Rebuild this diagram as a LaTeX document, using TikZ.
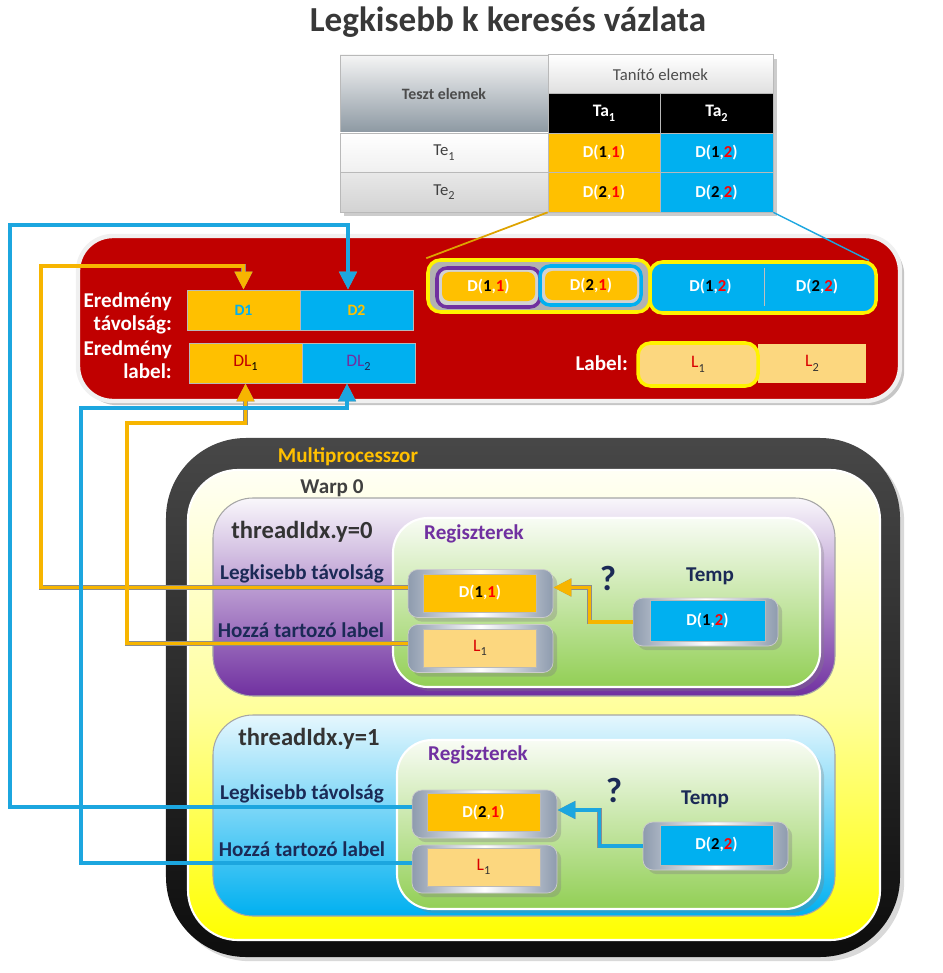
\documentclass[tikz,border=0pt]{standalone}
\usepackage{fontspec}
\setmainfont{Carlito}
\usetikzlibrary{arrows.meta,positioning,shadows}

\definecolor{cellorange}{HTML}{FFC000}
\definecolor{cellblue}{HTML}{00B0F0}
\definecolor{celllight}{HTML}{FCD77F}
\definecolor{boxred}{HTML}{C00000}
\definecolor{navytext}{HTML}{1B2A56}
\definecolor{regpurple}{HTML}{7030A0}
\definecolor{reggreen}{HTML}{92CF55}
\definecolor{linkorange}{HTML}{F7B500}
\definecolor{linkblue}{HTML}{1CA6DF}
\definecolor{silver}{HTML}{8E9BAE}
\definecolor{steelgray}{HTML}{8C98A2}

\newcommand{\lowsub}[1]{\raisebox{-0.55ex}{\scriptsize #1}}
\newcommand{\dpair}[2]{\textcolor{white}{D(}\textcolor{black}{#1}\textcolor{white}{,}\textcolor{red}{#2}\textcolor{white}{)}}
\newcommand{\lsub}[1]{\textcolor{red!85!black}{L}\lowsub{\textcolor{black!80}{#1}}}

\tikzset{
	tcell/.style={draw=gray!55, inner sep=0pt, minimum height=7.9mm, font=\bfseries\fontsize{9.5}{11}\selectfont},
	ocell/.style={tcell, fill=cellorange},
	bcell/.style={tcell, fill=cellblue},
	lcell/.style={tcell, fill=celllight, font=\fontsize{10}{11}\selectfont},
	ygroup/.style={draw=yellow, line width=2pt, rounded corners=2.5mm, inner sep=0pt},
	whitelbl/.style={text=white, font=\bfseries\fontsize{12}{13}\selectfont},
	navylbl/.style={text=navytext, font=\bfseries\fontsize{12}{14}\selectfont},
	thrlbl/.style={text=black!80, font=\bfseries\fontsize{14}{16}\selectfont},
	reglbl/.style={text=regpurple, font=\bfseries\fontsize{12}{14}\selectfont},
	qmark/.style={text=navytext, font=\bfseries\fontsize{20}{22}\selectfont},
	threadbox/.style={draw=gray!70, line width=0.6pt, rounded corners=8mm, minimum width=124.4mm},
	regbox/.style={draw=white, line width=1.2pt, rounded corners=7mm, top color=reggreen!6, bottom color=reggreen,
		drop shadow={opacity=0.3}},
	slotbox/.style={draw=gray!40, rounded corners=2mm, minimum width=29mm, minimum height=9.6mm,
		left color=silver, right color=silver, middle color=white, drop shadow={opacity=0.35}},
	olink/.style={draw=linkorange, line width=2pt, -{Triangle[length=3.6mm, width=3.4mm]},
		preaction={draw=black!45, line width=2.8pt}},
	blink/.style={draw=linkblue, line width=2pt, -{Triangle[length=3.6mm, width=3.4mm]},
		preaction={draw=black!45, line width=2.8pt}}
}

\begin{document}
\begin{tikzpicture}[x=0.2mm, y=-0.2mm]
	\useasboundingbox (0, 0) rectangle (942, 973);

	%%draw the title
	\node[text=black!78, font=\bfseries\fontsize{20}{24}\selectfont] (title) at (508, 22){Legkisebb k keresés vázlata};

	%%draw the table
	\node[fill=white, drop shadow={opacity=0.4}, minimum width=86.6mm, minimum height=31.4mm] (tbl) at (556.5, 133.5){};
	\node[tcell, minimum width=41.6mm, minimum height=15.6mm, top color=gray!8, bottom color=steelgray,
		text=black!70, font=\bfseries\fontsize{9}{11}\selectfont] (teszt) at (444, 94){Teszt elemek};
	\node[tcell, minimum width=45mm, top color=white, bottom color=gray!25, text=black!70,
		font=\fontsize{9.5}{11}\selectfont] (tanito) at (660.5, 74.5){Tanító elemek};
	\node[tcell, fill=black, minimum width=22.4mm, font=\bfseries\fontsize{10}{11}\selectfont] (ta1) at (604, 113.5){\textcolor{white}{Ta\lowsub{1}}};
	\node[tcell, fill=black, minimum width=22.6mm, font=\bfseries\fontsize{10}{11}\selectfont] (ta2) at (716.5, 113.5){\textcolor{white}{Ta\lowsub{2}}};
	\node[tcell, minimum width=41.6mm, top color=white, bottom color=gray!12, text=black!75,
		font=\fontsize{9.5}{11}\selectfont] (te1) at (444, 152.75){Te\lowsub{1}};
	\node[tcell, minimum width=41.6mm, top color=gray!18, bottom color=gray!35, text=black!75,
		font=\fontsize{9.5}{11}\selectfont] (te2) at (444, 192.25){Te\lowsub{2}};
	\node[ocell, minimum width=22.4mm] (d11) at (604, 152.75){\dpair{1}{1}};
	\node[bcell, minimum width=22.6mm] (d12) at (716.5, 152.75){\dpair{1}{2}};
	\node[ocell, minimum width=22.4mm] (d21) at (604, 192.25){\dpair{2}{1}};
	\node[bcell, minimum width=22.6mm] (d22) at (716.5, 192.25){\dpair{2}{2}};

	%%draw the result panel
	\node[fill=boxred, draw=white!88!gray, line width=2.5pt, rounded corners=7mm, minimum width=164.4mm, minimum height=33mm,
		drop shadow={opacity=0.45}] (result) at (489, 318.5){};
	\node[whitelbl, anchor=east, align=right] (distlbl) at (178, 313.5){Eredmény\\távolság:};
	\node[whitelbl, anchor=east, align=right] (lbllbl) at (178, 360){Eredmény\\label:};
	\node[ocell, minimum width=22.6mm, minimum height=8mm, text=cellblue, font=\bfseries\fontsize{9}{11}\selectfont] (d1) at (243.5, 310){D1};
	\node[bcell, minimum width=22.6mm, minimum height=8mm, text=cellorange, font=\bfseries\fontsize{9}{11}\selectfont] (d2) at (356.5, 310){D2};
	\node[ocell, minimum width=22.6mm, minimum height=8mm, font=\fontsize{10}{11}\selectfont] (dl1) at (245.5, 363){\textcolor{boxred}{DL}\lowsub{\textcolor{black}{1}}};
	\node[bcell, minimum width=22.6mm, minimum height=8mm, font=\fontsize{10}{11}\selectfont] (dl2) at (358.5, 363){\textcolor{regpurple}{DL}\lowsub{\textcolor{navytext}{2}}};

	%%the copied column elements
	\node[ygroup, fill=gray!60, minimum width=44.4mm, minimum height=10.4mm] (grp1) at (539, 286){};
	\node[draw=regpurple, line width=2pt, rounded corners=2mm, fill=gray!35, minimum width=20.6mm, minimum height=7.8mm] (pbox) at (488.5, 287.5){};
	\node[ocell, draw=none, rounded corners=1.5mm, minimum width=18.6mm, minimum height=5.8mm] (d11r) at (488.5, 286.5){\dpair{1}{1}};
	\node[draw=cellblue, line width=2pt, rounded corners=2mm, fill=gray!35, minimum width=20.2mm, minimum height=7.8mm] (cbox) at (590.5, 285.5){};
	\node[ocell, draw=none, rounded corners=1.5mm, minimum width=18.4mm, minimum height=5.8mm] (d21r) at (591, 285.5){\dpair{2}{1}};
	\node[ygroup, fill=cellblue, minimum width=45.2mm, minimum height=10.2mm] (grp2) at (763, 287.5){};
	\node[bcell, draw=none, minimum width=21.4mm, minimum height=7.6mm] (d12r) at (710.5, 287){\dpair{1}{2}};
	\node[bcell, draw=none, minimum width=21.2mm, minimum height=7.6mm] (d22r) at (817, 287){\dpair{2}{2}};
	\draw[gray!50] (d12r.north east) -- (d12r.south east);
	\node[whitelbl, anchor=east] (lablbl) at (634, 363){Label:};
	\node[lcell, fill=celllight, minimum width=21.6mm, minimum height=7.8mm, draw=none] (l2) at (812, 363.5){\lsub{2}};
	\node[lcell, ygroup, fill=celllight, minimum width=24mm, minimum height=8.6mm] (l1) at (698, 364.5){\lsub{1}};

	%%lines from the table
	\draw[linkorange!90!black, line width=1pt] (d21.south west) -- (grp1.north west);
	\draw[linkblue, line width=0.8pt] (d22.south east) -- ([xshift=-1.8mm]grp2.north east);

	%%draw the multiprocessor
	\node[top color=black!72, bottom color=black!95, rounded corners=16mm, minimum width=146.8mm, minimum height=103.8mm,
		drop shadow={opacity=0.3}] (mp) at (533, 697.5){};
	\node[text=cellorange, font=\bfseries\fontsize{12}{14}\selectfont] (mplbl) at (348, 457){Multiprocesszor};
	\node[draw=white, line width=1.2pt, rounded corners=10mm, top color=yellow!4, bottom color=yellow, middle color=yellow!38,
		minimum width=138.4mm, minimum height=94mm] (warp) at (534, 705){};
	\node[text=black!75, font=\bfseries\fontsize{12}{14}\selectfont] (warplbl) at (332, 488){Warp 0};

	%%thread 0
	\node[threadbox, top color=regpurple!4, bottom color=regpurple, minimum height=39.6mm] (th0) at (524, 597){};
	\node[thrlbl] (th0lbl) at (302, 532){threadIdx.y=0};
	\node[regbox, minimum width=85.4mm, minimum height=33.8mm] (reg0) at (606.5, 602.5){};
	\node[reglbl] (reg0lbl) at (474, 534){Regiszterek};
	\node[navylbl] (dist0lbl) at (302, 574){Legkisebb távolság};
	\node[navylbl] (lab0lbl) at (301, 630){Hozzá tartozó label};
	\node[slotbox] (dist0) at (480.5, 593.5){};
	\node[ocell, minimum width=22.6mm, minimum height=7.6mm] (dist0v) at (480, 593){\dpair{1}{1}};
	\node[slotbox] (lab0) at (480.5, 648.5){};
	\node[lcell, minimum width=22.6mm, minimum height=7.6mm] (lab0v) at (480, 648){\lsub{1}};
	\node[navylbl] (temp0lbl) at (710, 576){Temp};
	\node[qmark] (q0) at (608, 578){?};
	\node[slotbox] (temp0) at (705.5, 622){};
	\node[bcell, minimum width=23mm, minimum height=8.2mm] (temp0v) at (707.5, 620.5){\dpair{1}{2}};

	%%thread 1
	\node[threadbox, top color=cellblue!10, bottom color=cellblue, minimum height=40.2mm] (th1) at (524, 815.5){};
	\node[thrlbl] (th1lbl) at (309, 739){threadIdx.y=1};
	\node[regbox, minimum width=84.6mm, minimum height=33.8mm] (reg1) at (608.5, 824.5){};
	\node[reglbl] (reg1lbl) at (478, 755){Regiszterek};
	\node[navylbl] (dist1lbl) at (302, 794){Legkisebb távolság};
	\node[navylbl] (lab1lbl) at (302, 849){Hozzá tartozó label};
	\node[slotbox] (dist1) at (484.5, 814){};
	\node[ocell, minimum width=22.6mm, minimum height=7.6mm] (dist1v) at (483.5, 812.5){\dpair{2}{1}};
	\node[slotbox] (lab1) at (484.5, 869){};
	\node[lcell, minimum width=22.6mm, minimum height=7.6mm] (lab1v) at (483.5, 867){\lsub{1}};
	\node[navylbl] (temp1lbl) at (705, 799){Temp};
	\node[qmark] (q1) at (614, 790){?};
	\node[slotbox] (temp1) at (715.5, 846){};
	\node[bcell, minimum width=22.6mm, minimum height=8mm] (temp1v) at (716.5, 845){\dpair{2}{2}};

	%%draw the connectors
	\draw[olink] (temp0.west) -- ++(-8.6mm, 0) |- ([yshift=1.2mm]dist0.east);
	\draw[blink] (temp1.west) -- ++(-8.6mm, 0) |- ([yshift=0.8mm]dist1.east);
	\draw[olink] ([yshift=1.2mm]dist0.west) -| (41, 266) -| (d1.north);
	\draw[olink] ([yshift=1mm]lab0.west) -| (127, 423) -| (dl1.south);
	\draw[blink] ([yshift=1.4mm]dist1.west) -| (10, 225) -| ([xshift=-1.7mm]d2.north);
	\draw[blink] ([yshift=1.2mm]lab1.west) -| (81, 408) -| ([xshift=-2.3mm]dl2.south);
\end{tikzpicture}
\end{document}
